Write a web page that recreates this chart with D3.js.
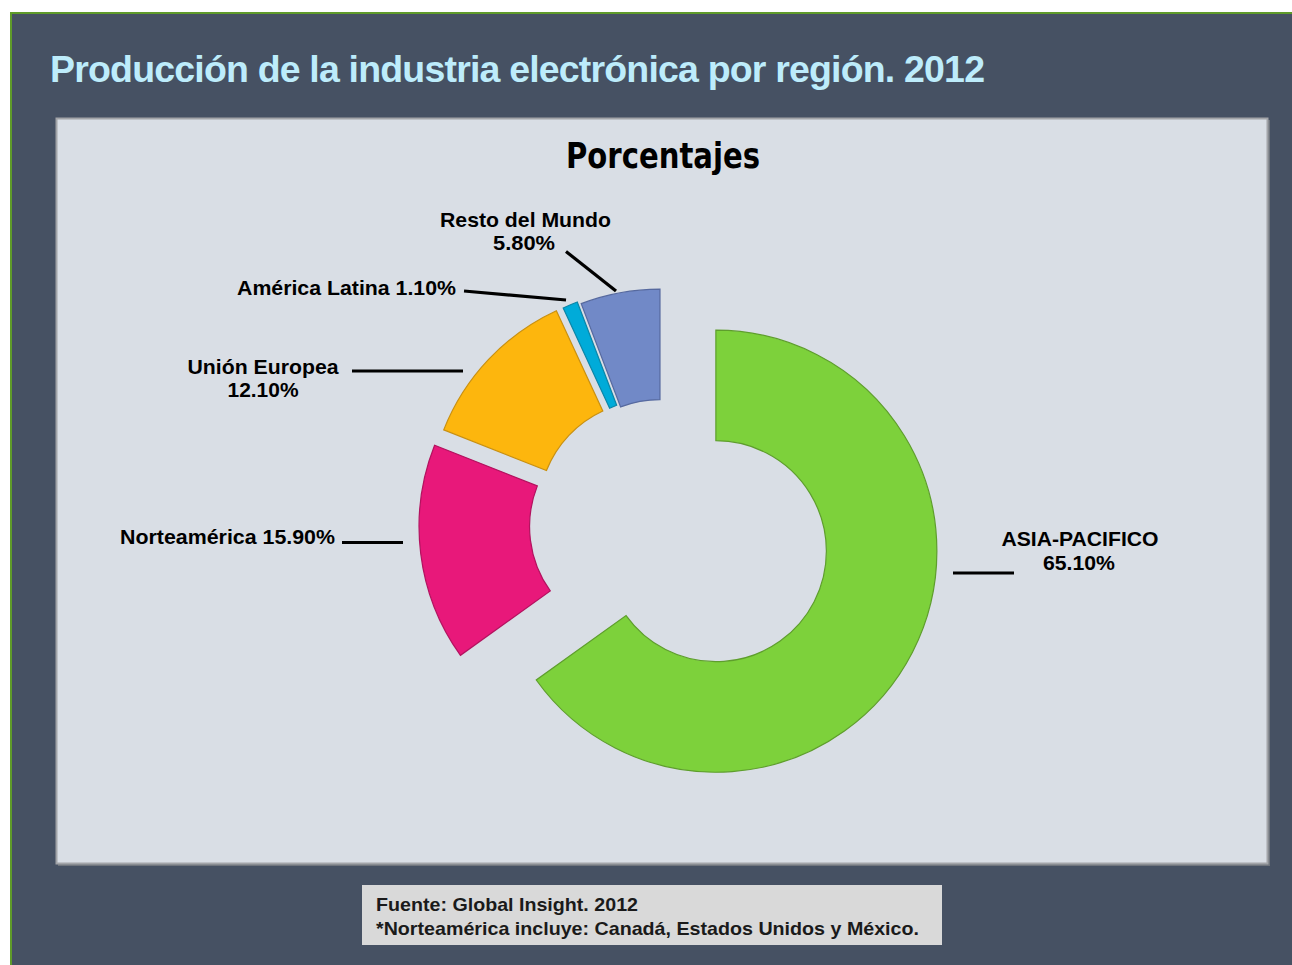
<!DOCTYPE html>
<html><head><meta charset="utf-8">
<script src="https://cdn.jsdelivr.net/npm/d3@7/dist/d3.min.js"></script>
<style>html,body{margin:0;padding:0;background:#fff;overflow:hidden}</style>
</head><body>
<svg id="c" width="1292" height="965"></svg>
<script>
// ---- data ----
const categories = ["ASIA-PACIFICO", "Norteamérica", "Unión Europea", "América Latina", "Resto del Mundo"];
const values = [65.1, 15.9, 12.1, 1.1, 5.8];
const valueLabels = ["65.10%", "15.90%", "12.10%", "1.10%", "5.80%"];

// ---- style / layout ----
const fills   = ["#7dd13b", "#e8187a", "#fdb60d", "#00abd9", "#7189c7"];
const strokes = ["#5e9e2c", "#b3125f", "#c99010", "#0b86a8", "#56699f"];
const explode = [60, 22.6, 18.3, 16.6, 13.9];
const cx = 662.5, cy = 523.8, rOuter = 221, rInner = 110.5;
const labelFont = "'Liberation Sans', Arial, sans-serif";
// label layout: lines of text [x, baseline, anchor, textLength, kind], leader [x1,y1,x2,y2]
const layout = [
  {lines: [[1080, 546, "middle", 157, 0], [1079, 570, "middle", 72, 1]], leader: [953, 573, 1014, 573]},
  {lines: [[335, 544, "end", 215, 2]], leader: [342, 542.5, 403, 542.5]},
  {lines: [[263, 373.5, "middle", 151, 0], [263, 397, "middle", 71, 1]], leader: [352, 371, 463, 371]},
  {lines: [[456, 294.5, "end", 219, 2]], leader: [464, 291, 566, 300]},
  {lines: [[525.5, 226.5, "middle", 171, 0], [524, 249.5, "middle", 62, 1]], leader: [566, 251.5, 616, 291]}
];

const svg = d3.select("#c");

// outer panel
svg.append("rect").attr("x", 0).attr("y", 0).attr("width", 1292).attr("height", 965).attr("fill", "#ffffff");
svg.append("rect").attr("x", 11).attr("y", 13).attr("width", 1300).attr("height", 980)
  .attr("fill", "#465163").attr("stroke", "#5f9b2a").attr("stroke-width", 2);

// main title
svg.append("text").attr("x", 50).attr("y", 82)
  .attr("font-family", labelFont).attr("font-weight", "bold").attr("font-size", 37.5)
  .attr("fill", "#bdecfb").attr("textLength", 935).attr("lengthAdjust", "spacing")
  .text("Producción de la industria electrónica por región. 2012");

// chart area
svg.append("rect").attr("x", 58).attr("y", 120).attr("width", 1212).attr("height", 746)
  .attr("fill", "#6f747c");
svg.append("rect").attr("x", 56.5).attr("y", 118.5).attr("width", 1211).attr("height", 745)
  .attr("fill", "#d9dee5").attr("stroke", "#a2a4a8").attr("stroke-width", 2);

// chart title
svg.append("text").attr("x", 663).attr("y", 168).attr("text-anchor", "middle")
  .attr("font-family", "'Liberation Sans Narrow','DejaVu Sans Condensed',sans-serif")
  .attr("font-weight", "bold").attr("font-size", 36).attr("fill", "#000")
  .attr("textLength", 194).attr("lengthAdjust", "spacingAndGlyphs")
  .text("Porcentajes");

// pie
const pie = d3.pie().sort(null).value(d => d).startAngle(0).endAngle(2 * Math.PI);
const arcs = pie(values);
const arc = d3.arc().innerRadius(rInner).outerRadius(rOuter);

const g = svg.append("g").attr("transform", `translate(${cx},${cy})`);
g.selectAll("path").data(arcs).join("path")
  .attr("transform", (d, i) => {
    const m = (d.startAngle + d.endAngle) / 2;
    return `translate(${explode[i] * Math.sin(m)},${-explode[i] * Math.cos(m)})`;
  })
  .attr("d", arc)
  .attr("fill", (d, i) => fills[i])
  .attr("stroke", (d, i) => strokes[i])
  .attr("stroke-width", 1.2);

// labels
layout.forEach((L, i) => {
  svg.append("line")
    .attr("x1", L.leader[0]).attr("y1", L.leader[1]).attr("x2", L.leader[2]).attr("y2", L.leader[3])
    .attr("stroke", "#000").attr("stroke-width", 3.2);
  L.lines.forEach(ln => {
    const txt = ln[4] === 0 ? categories[i] : ln[4] === 1 ? valueLabels[i] : categories[i] + " " + valueLabels[i];
    svg.append("text").attr("x", ln[0]).attr("y", ln[1]).attr("text-anchor", ln[2])
      .attr("font-family", labelFont).attr("font-weight", "bold").attr("font-size", 21)
      .attr("fill", "#000").attr("textLength", ln[3]).attr("lengthAdjust", "spacingAndGlyphs")
      .text(txt);
  });
});

// source box
svg.append("rect").attr("x", 362).attr("y", 885).attr("width", 580).attr("height", 60).attr("fill", "#d9d9d9");
const srcLines = ["Fuente: Global Insight. 2012", "*Norteamérica incluye: Canadá, Estados Unidos y México."];
const srcLen = [262, 543];
srcLines.forEach((s, i) => {
  svg.append("text").attr("x", 376).attr("y", 911 + i * 24)
    .attr("font-family", labelFont).attr("font-weight", "bold").attr("font-size", 18.5)
    .attr("fill", "#1a1a1a").attr("textLength", srcLen[i]).attr("lengthAdjust", "spacingAndGlyphs")
    .text(s);
});
</script>
</body></html>
